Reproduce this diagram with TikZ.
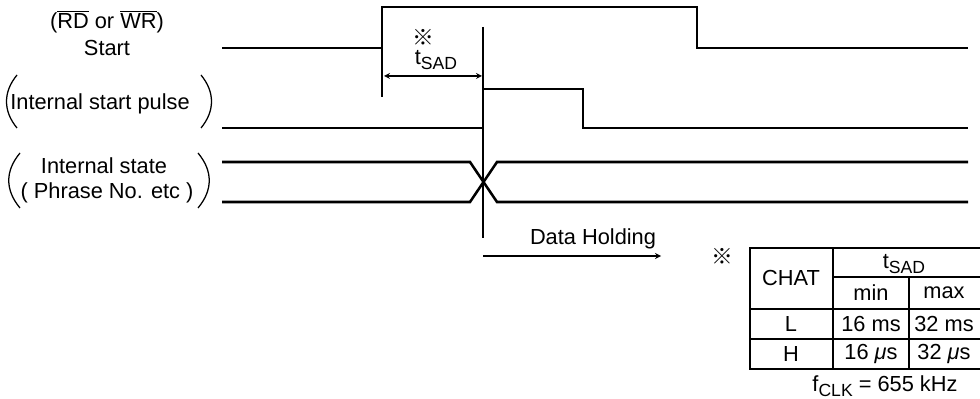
\documentclass[tikz,border=0pt]{standalone}
\usepackage{fontspec}
\setmainfont{Liberation Sans}
\newfontfamily\cjk{Noto Sans CJK JP}
\usetikzlibrary{arrows, positioning}
\newcommand{\ovl}[1]{$\overline{\hbox{#1}}$}
\newcommand{\refmark}{{\cjk ※}}
\newcommand{\tsad}{t\raisebox{-0.4ex}{\fontsize{12.5}{13}\selectfont SAD}}
\newcommand{\fclk}{f\raisebox{-0.4ex}{\fontsize{12.5}{13}\selectfont CLK}}

\begin{document}
\begin{tikzpicture}[
    x=0.025cm, y=-0.025cm,
    sig/.style={line width=1.8pt},
    thin/.style={line width=0.9pt},
    grid/.style={line width=1.1pt},
    lbl/.style={font=\fontsize{15.5}{17}\selectfont, inner sep=0pt, align=center},
    arrow/.style={->, thin, >=stealth}
]
\useasboundingbox (0,0) rectangle (980,399);
% signal names
\node[lbl] (rdwr) at (107,22) {(\ovl{RD} or \ovl{WR})};
\node[lbl, below=5pt of rdwr] (start) {Start};
\node[lbl] (pulse) at (100,104) {Internal start pulse};
\node[lbl] (state) at (104,166) {Internal state};
\node[lbl] (phrase) at (107,193) {( Phrase No. etc )};
\draw[thin] (17,75) .. controls (3,92) and (3,111) .. (17,128);
\draw[thin] (201,75) .. controls (215,92) and (215,111) .. (201,128);
\draw[thin] (20,153) .. controls (5,171) and (5,190) .. (20,208);
\draw[thin] (198,153) .. controls (213,171) and (213,190) .. (198,208);
% waveforms
\draw[sig] (222,48) -- (382,48) -- (382,7) -- (697,7) -- (697,48) -- (968,48);
\draw[thin] (382,48) -- (382,97);
\draw[sig] (222,128) -- (483,128) -- (483,89) -- (583,89) -- (583,128) -- (968,128);
\draw[sig] (222,162) -- (470,162) -- (497,202) -- (968,202);
\draw[sig] (222,202) -- (470,202) -- (497,162) -- (968,162);
\draw[thin] (483,27) -- (483,238);
% t_SAD
\coordinate (rise) at (384,76);
\coordinate (edge) at (482,76);
\draw[arrow, <->] (rise) -- (edge);
\node[lbl] (mark) at (423,37) {\refmark};
\node[lbl] (tsadlbl) at (436,60) {\tsad};
% data holding
\node[lbl] (hold) at (593,239) {Data Holding};
\coordinate (holdA) at (483,256);
\coordinate (holdB) at (661,256);
\draw[arrow] (holdA) -- (holdB);
% table
\node[lbl] (tmark) at (722,256) {\refmark};
\draw[grid] (980,248) -- (750,248) -- (750,369) -- (980,369);
\draw[grid] (833,248) -- (833,369);
\draw[grid] (909,277) -- (909,369);
\draw[grid] (833,277) -- (980,277);
\draw[grid] (750,309) -- (980,309);
\draw[grid] (750,339) -- (980,339);
\node[lbl] (chat) at (791,278) {CHAT};
\node[lbl] (hdr) at (904,264) {\tsad};
\node[lbl] (min) at (871,293) {min};
\node[lbl] (max) at (944,293) {max};
\node[lbl] (lrow) at (791,324) {L};
\node[lbl] (lmin) at (871,324) {16 ms};
\node[lbl] (lmax) at (944,324) {32 ms};
\node[lbl] (hrow) at (791,354) {H};
\node[lbl] (hmin) at (871,354) {16 {\itshape μ}s};
\node[lbl] (hmax) at (944,354) {32 {\itshape μ}s};
\node[lbl] (clk) at (885,386) {\fclk\ = 655 kHz};
\end{tikzpicture}
\end{document}
